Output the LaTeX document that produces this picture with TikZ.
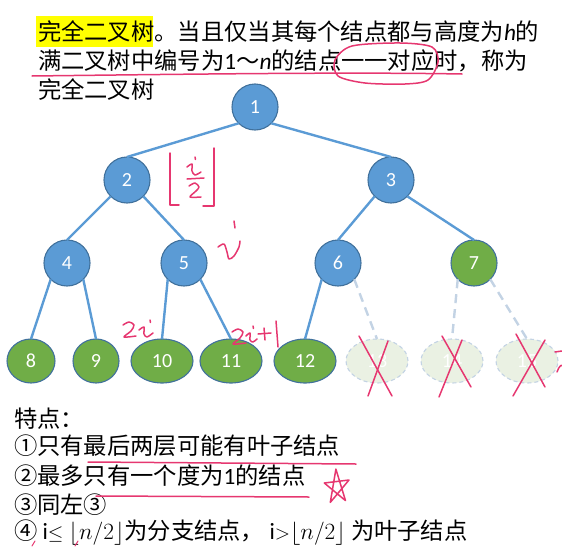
\documentclass[tikz,border=0pt]{standalone}
\usepackage{fix-cm}
\usepackage{fontspec}
\setmainfont{Carlito}
\newfontfamily\cjk{Noto Sans CJK SC}
\usetikzlibrary{shapes.geometric}
\definecolor{nodeblue}{HTML}{5B9BD5}
\definecolor{nodegreen}{HTML}{70AD47}
\definecolor{nodeborder}{HTML}{41719C}
\definecolor{ghostfill}{HTML}{EAF1E3}
\definecolor{ghostline}{HTML}{C3D3E4}
\definecolor{inkpink}{RGB}{230,55,112}
\definecolor{hilite}{HTML}{FFFF00}
\tikzset{
  roundn/.style={circle, minimum size=46pt, inner sep=0pt, outer sep=0pt, draw=nodeborder, line width=1.1pt, text=white, font=\fontsize{20}{20}\selectfont},
  bluen/.style={roundn, fill=nodeblue},
  greenn/.style={roundn, fill=nodegreen},
  leafn/.style={ellipse, minimum height=44pt, minimum width=62pt, inner sep=0pt, outer sep=0pt, draw=nodeborder, line width=1.1pt, fill=nodegreen, text=white, font=\fontsize{20}{20}\selectfont},
  ghostn/.style={leafn, fill=ghostfill, draw=ghostline, dash pattern=on 4pt off 3pt},
  treeline/.style={draw=nodeblue, line width=2.4pt},
  ghostedge/.style={draw=ghostline, line width=2.4pt, dash pattern=on 9pt off 6pt},
  ink/.style={draw=inkpink, line width=1.5pt, line cap=round, line join=round},
  txt/.style={anchor=west, inner sep=0pt, outer sep=0pt, text=black, font=\fontsize{23.3}{28}\selectfont}
}
\begin{document}
\begin{tikzpicture}[x=1pt,y=-1pt]
\useasboundingbox (0,0) rectangle (562,546);
% highlight
\fill[hilite] (36,16) rectangle (153,47);
% title text
\node[txt] (t1) at (38,32) {{\cjk 完全二叉树。当且仅当其每个结点都与高度为}{\itshape h}{\cjk 的}};
\node[txt] (t2) at (38,61) {{\cjk 满二叉树中编号为}1{\cjk ～}{\itshape n}{\cjk 的结点一一对应时，称为}};
\node[txt] (t3) at (38,90) {{\cjk 完全二叉树}};

% tree nodes
\node[bluen] (n1) at (255,107) {1};
\node[bluen] (n2) at (127,180) {2};
\node[bluen] (n3) at (391,180) {3};
\node[bluen] (n4) at (67,263) {4};
\node[bluen] (n5) at (184,263) {5};
\node[bluen] (n6) at (338,263) {6};
\node[greenn] (n7) at (474,263) {7};
\node[leafn, minimum width=48pt] (n8) at (31,361) {8};
\node[leafn, minimum width=46pt] (n9) at (96,361) {9};
\node[leafn] (n10) at (162,361) {10};
\node[leafn] (n11) at (231,361) {11};
\node[leafn] (n12) at (305,361) {12};
\node[ghostn] (n13) at (377,361) {13};
\node[ghostn] (n14) at (452,361) {14};
\node[ghostn] (n15) at (527,361) {15};

% edges
\draw[treeline] (n1.south west) -- (n2.north);
\draw[treeline] (n1.south east) -- (n3.north);
\draw[treeline] (n2.south west) -- (n4.north);
\draw[treeline] (n2.south east) -- (n5.north);
\draw[treeline] (n3.south west) -- (n6.north);
\draw[treeline] (n3.south east) -- (n7.north);
\draw[treeline] (n4.south west) -- (n8.north);
\draw[treeline] (n4.south east) -- (n9.north);
\draw[treeline] (n5.south west) -- (n10.north);
\draw[treeline] (n5.south east) -- (n11.north);
\draw[treeline] (n6.south west) -- (n12.north);
\draw[ghostedge] (n6.south east) -- (n13.north);
\draw[ghostedge] (n7.south west) -- (n14.north);
\draw[ghostedge] (n7.south east) -- (n15.north);

% bottom text
\node[txt] (b0) at (14,419) {{\cjk 特点：}};
\node[txt] (b1) at (14,446) {{\cjk ①只有最后两层可能有叶子结点}};
\node[txt] (b2) at (14,476) {{\cjk ②最多只有一个度为}1{\cjk 的结点}};
\node[txt] (b3) at (14,505) {{\cjk ③同左③}};
\node[txt] (b4) at (14,533) {{\cjk ④} i{\fontsize{20}{20}\selectfont$\le$} $\lfloor n/2\rfloor${\cjk 为分支结点，} i{\fontsize{20}{20}\selectfont$>$}$\lfloor n/2\rfloor$ {\cjk 为叶子结点}};

% ink annotations
\draw[ink] (32,76) .. controls (200,74) and (350,72) .. (462,74);
\draw[ink] plot[smooth cycle] coordinates {(352,46) (400,43) (432,47) (438,62) (428,80) (405,84) (365,83) (338,76) (335,60)};
% floor(i/2)
\draw[ink] (170,153) -- (170,205) -- (179,205);
\draw[ink] (214,148) -- (214,206) -- (203,206);
\draw[ink] (195,157) -- (195.5,159.5);
\draw[ink] plot[smooth] coordinates {(187,167) (192,164) (192,171) (195,175) (201,172)};
\draw[ink] (187,179) -- (204,178);
\draw[ink] plot[smooth] coordinates {(189,186) (195,183) (199,187) (196,191) (190,197) (201,197)};
% i near node 5
\draw[ink] (234,221) -- (235,228);
\draw[ink] plot[smooth] coordinates {(218,247) (224,244) (227,252) (229,259) (234,256) (239,247) (240,241)};
% 2i
\draw[ink] plot[smooth] coordinates {(123,325) (129,322) (134,325) (131,331) (124,337) (136,336)};
\draw[ink] (150,320) -- (150.5,322.5);
\draw[ink] plot[smooth] coordinates {(139,330) (144,327) (144,334) (147,337) (153,333)};
% 2i+1
\draw[ink] plot[smooth] coordinates {(232,332) (238,329) (243,332) (240,338) (233,344) (246,343)};
\draw[ink] (253,326) -- (253.5,328.5);
\draw[ink] plot[smooth] coordinates {(246,336) (250,333) (250,340) (253,342) (257,339)};
\draw[ink] (258,334) -- (271,333);
\draw[ink] (264,328) -- (265,340);
\draw[ink] (276,321) -- (278,347);
% crosses
\draw[ink] (359,336) -- (392,396);
\draw[ink] (388,341) -- (368,396);
\draw[ink] (442,336) -- (471,387);
\draw[ink] (462,340) -- (439,397);
\draw[ink] (516,334) -- (545,387);
\draw[ink] (545,340) -- (513,396);
% partial mark at right edge
\draw[ink] (555,352) -- (562,351);
\draw[ink] (557,372) .. controls (559,366) and (562,364) .. (562,366);
% underlines
\draw[ink] (88,462) -- (356,464);
\draw[ink] (96,496) -- (309,497);
% star
\draw[ink] (335.9,469.1) -- (330.3,502.4) -- (349.0,480.0) -- (324.3,483.0) -- (345.5,500.6) -- cycle;
% small ticks at bottom
\draw[ink, line width=1pt] (32,546) -- (35,541);
\draw[ink, line width=1pt] (75,546) -- (78,541);
\end{tikzpicture}
\end{document}
